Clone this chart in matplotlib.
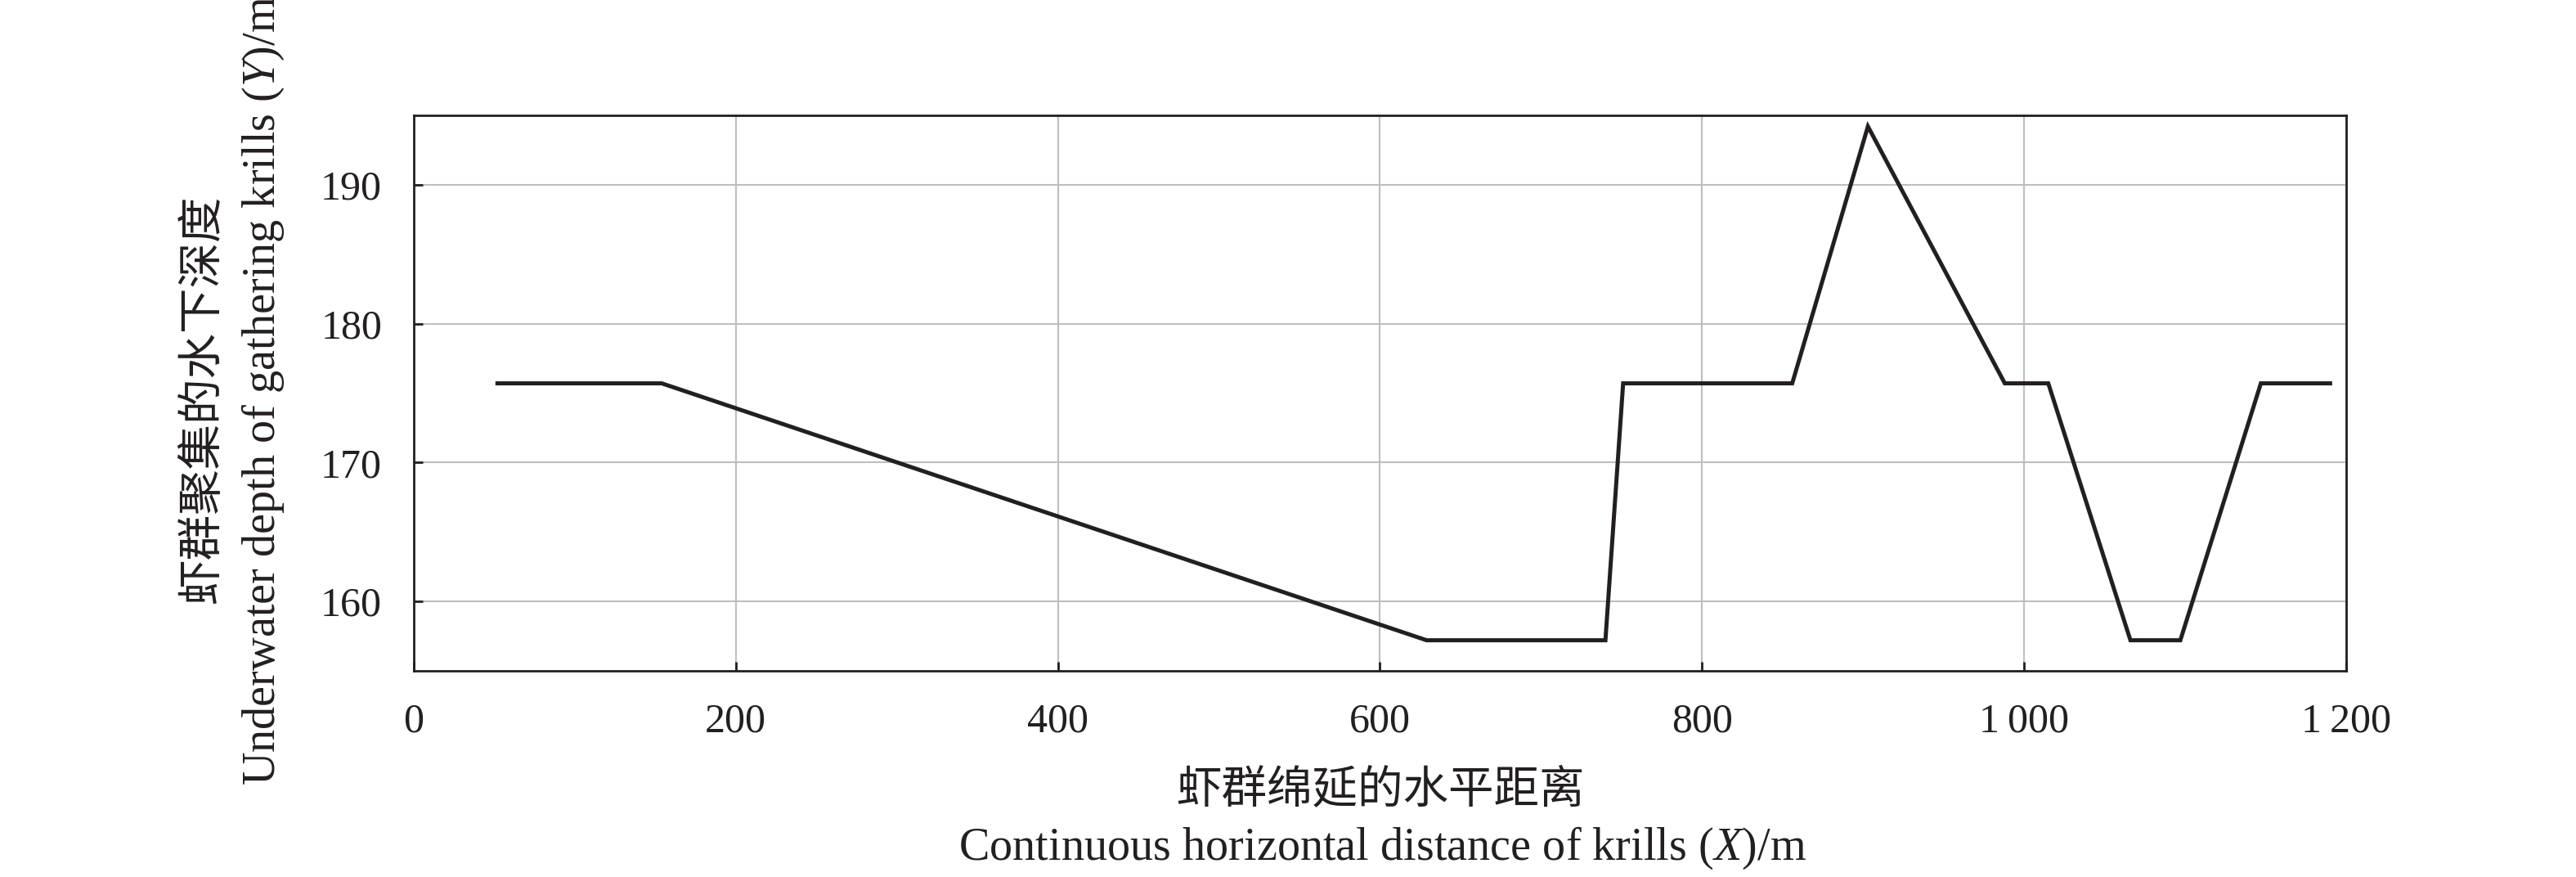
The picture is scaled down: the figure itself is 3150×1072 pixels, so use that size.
import matplotlib
matplotlib.use("Agg")
import matplotlib.pyplot as plt

# distance along the swarm (m) and depth (m)
dist_x = [52, 154, 629, 740, 751, 856, 903, 988, 1015, 1066, 1097, 1147, 1190]
depth_y = [175.7, 175.7, 157.2, 157.2, 175.7, 175.7, 194.2, 175.7, 175.7,
           157.2, 157.2, 175.7, 175.7]

x_ticks = [0, 200, 400, 600, 800, 1000, 1200]
x_tick_labels = ["0", "200", "400", "600", "800", "1\u2009000", "1\u2009200"]
y_ticks = [160, 170, 180, 190]

serif = ["Liberation Serif", "DejaVu Serif"]
cjk = ["Noto Sans CJK SC", "DejaVu Sans"]
ink = "#231f20"

plt.rcParams["mathtext.fontset"] = "custom"
plt.rcParams["mathtext.rm"] = "Liberation Serif"
plt.rcParams["mathtext.it"] = "Liberation Serif:italic"

fig = plt.figure(figsize=(31.5, 10.72), dpi=100)
ax = fig.add_axes([0.1606, 0.2351, 0.7502, 0.6334])

ax.plot(dist_x, depth_y, color=ink, linewidth=3.6, solid_joinstyle="miter")

ax.set_xlim(0, 1200)
ax.set_ylim(155, 195)
ax.set_xticks(x_ticks)
ax.set_xticklabels(x_tick_labels)
ax.set_yticks(y_ticks)

ax.grid(True, color="#bebebe", linewidth=1.5)
ax.set_axisbelow(True)

for spine in ax.spines.values():
    spine.set_color(ink)
    spine.set_linewidth(2.0)

ax.tick_params(direction="in", length=8, width=2.0, color=ink,
               labelsize=36, labelcolor=ink, top=False, right=False)
ax.tick_params(axis="x", pad=28)
ax.tick_params(axis="y", pad=28)
for lab in ax.get_xticklabels() + ax.get_yticklabels():
    lab.set_family(serif)

# axis titles: Chinese line + English line
fig.text(1688 / 3150, 1 - 966 / 1072, "虾群绵延的水平距离", family=cjk,
         fontsize=40, fontweight="light", color=ink, ha="center", va="center")
fig.text(1690 / 3150, 1 - 1037 / 1072,
         "Continuous horizontal distance of krills ($X$)/m", family=serif,
         fontsize=40.5, color=ink, ha="center", va="center")

fig.text(247 / 3150, 1 - 488 / 1072, "虾群聚集的水下深度", family=cjk,
         fontsize=40, fontweight="light", color=ink, rotation=90,
         ha="center", va="center")
fig.text(322 / 3150, 1 - 960 / 1072,
         "Underwater depth of gathering krills ($Y$)/m", family=serif,
         fontsize=40.5, color=ink, rotation=90, ha="center", va="bottom")

fig.savefig("out.png", dpi=100, facecolor="white")
